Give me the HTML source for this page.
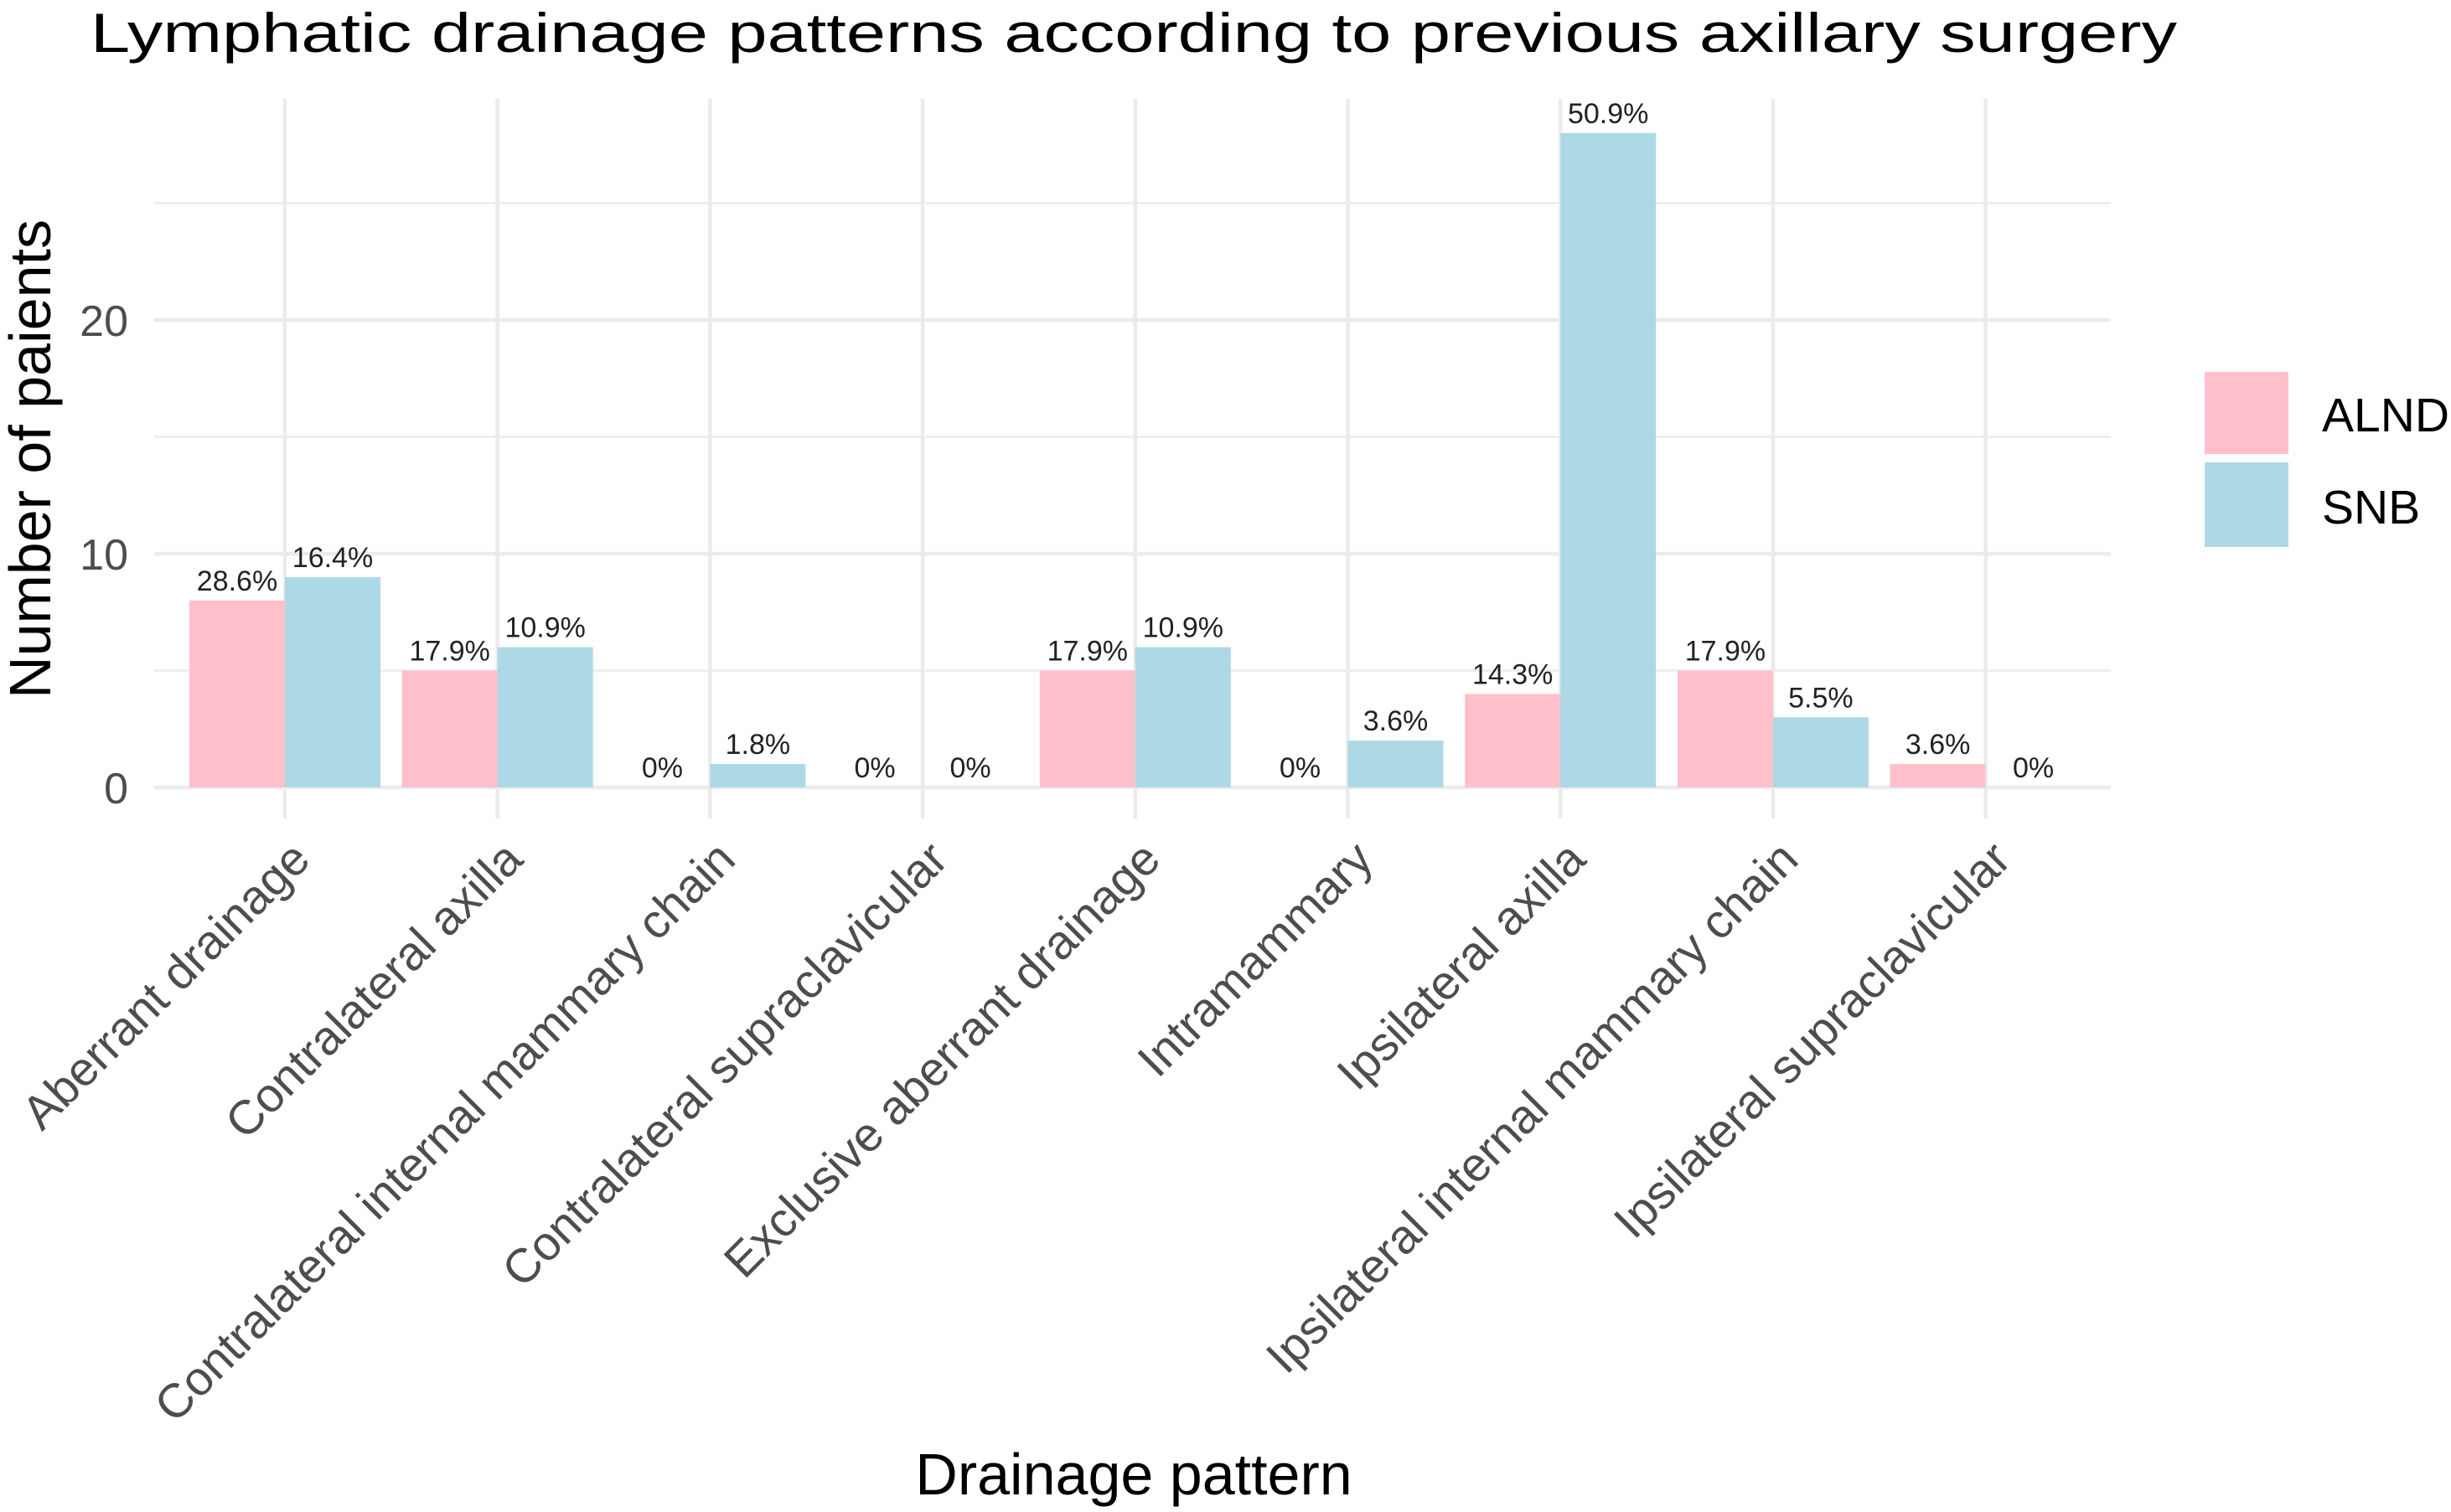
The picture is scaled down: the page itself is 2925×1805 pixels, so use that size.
<!DOCTYPE html>
<html><head><meta charset="utf-8"><style>
html,body{margin:0;padding:0;background:#fff;}
svg{display:block;font-family:"Liberation Sans",Arial,sans-serif;}
</style></head><body>
<svg id="chart" width="2925" height="1805" viewBox="0 0 2925 1805">
<rect width="2925" height="1805" fill="#fff"/>
<text x="108" y="62" font-size="66" fill="#000" textLength="2490" lengthAdjust="spacingAndGlyphs">Lymphatic drainage patterns according to previous axillary surgery</text>
<g id="grid"></g><g id="bars"></g><g id="labels"></g><g id="axes"></g>
<text transform="translate(60,548) rotate(-90)" text-anchor="middle" font-size="70" fill="#000">Number of paients</text>
<text x="1353" y="1784" text-anchor="middle" font-size="70" fill="#000">Drainage pattern</text>
<g>
<rect x="2631" y="444" width="100" height="98" fill="#ffc0cb"/>
<rect x="2631" y="552" width="100" height="101" fill="#add8e6"/>
<text x="2771" y="515" font-size="57" fill="#000">ALND</text>
<text x="2771" y="625" font-size="57" fill="#000">SNB</text>
</g>
</svg>
<script>
const categories = ["Aberrant drainage","Contralateral axilla","Contralateral internal mammary chain","Contralateral supraclavicular","Exclusive aberrant drainage","Intramammary","Ipsilateral axilla","Ipsilateral internal mammary chain","Ipsilateral supraclavicular"];
const alnd = [8,5,0,0,5,0,4,5,1];
const snb = [9,6,1,0,6,2,28,3,0];
const alndPct = ["28.6%","17.9%","0%","0%","17.9%","0%","14.3%","17.9%","3.6%"];
const snbPct = ["16.4%","10.9%","1.8%","0%","10.9%","3.6%","50.9%","5.5%","0%"];
const majorTicks = [0,10,20];
const minorTicks = [5,15,25];

const NS = "http://www.w3.org/2000/svg";
const plotL = 184, plotR = 2519, plotT = 118;
const y0 = 940, pxPerUnit = 27.9;
const y = v => y0 - v * pxPerUnit;
const firstX = 340, step = 253.7;
const x = i => firstX + step * i;
const barW = 114;
function mk(tag, attrs, parent) {
  const e = document.createElementNS(NS, tag);
  for (const k in attrs) e.setAttribute(k, attrs[k]);
  parent.appendChild(e);
  return e;
}
const grid = document.getElementById('grid');
const bars = document.getElementById('bars');
const labels = document.getElementById('labels');
const axes = document.getElementById('axes');

minorTicks.forEach(t => {
  const l = mk('line', {x1: plotL, x2: plotR, y1: y(t), y2: y(t), stroke: '#ebebeb', 'stroke-width': 2.5}, grid);
  
  
});
majorTicks.forEach(t => {
  const l = mk('line', {x1: plotL, x2: plotR, y1: y(t), y2: y(t), stroke: '#ebebeb', 'stroke-width': 4.5}, grid);
  
  
  const tx = mk('text', {x: 153, y: y(t) + 19, 'text-anchor': 'end', 'font-size': 52, fill: '#4d4d4d'}, axes);
  tx.textContent = t;
  
  
});
categories.forEach((c, i) => {
  const l = mk('line', {x1: x(i), x2: x(i), y1: plotT, y2: y0 + 37, stroke: '#ebebeb', 'stroke-width': 4.5}, grid);
  
  

  const a = mk('rect', {x: x(i) - barW, y: y(alnd[i]), width: barW, height: y0 - y(alnd[i]), fill: '#ffc0cb'}, bars);
  
  
  const b = mk('rect', {x: x(i), y: y(snb[i]), width: barW, height: y0 - y(snb[i]), fill: '#add8e6'}, bars);
  
  

  const la = mk('text', {x: x(i) - barW / 2, y: y(alnd[i]) - 12, 'text-anchor': 'middle', 'font-size': 34, fill: '#222'}, labels);
  la.textContent = alndPct[i];
  
  
  const lb = mk('text', {x: x(i) + barW / 2, y: y(snb[i]) - 12, 'text-anchor': 'middle', 'font-size': 34, fill: '#222'}, labels);
  lb.textContent = snbPct[i];
  
  

  const t = mk('text', {transform: `translate(${x(i) + 4},${y0 + 60}) rotate(-45)`, 'text-anchor': 'end', 'dominant-baseline': 'hanging', 'font-size': 57, fill: '#4d4d4d'}, axes);
  t.textContent = c;
  
  
});
</script>
</body></html>
